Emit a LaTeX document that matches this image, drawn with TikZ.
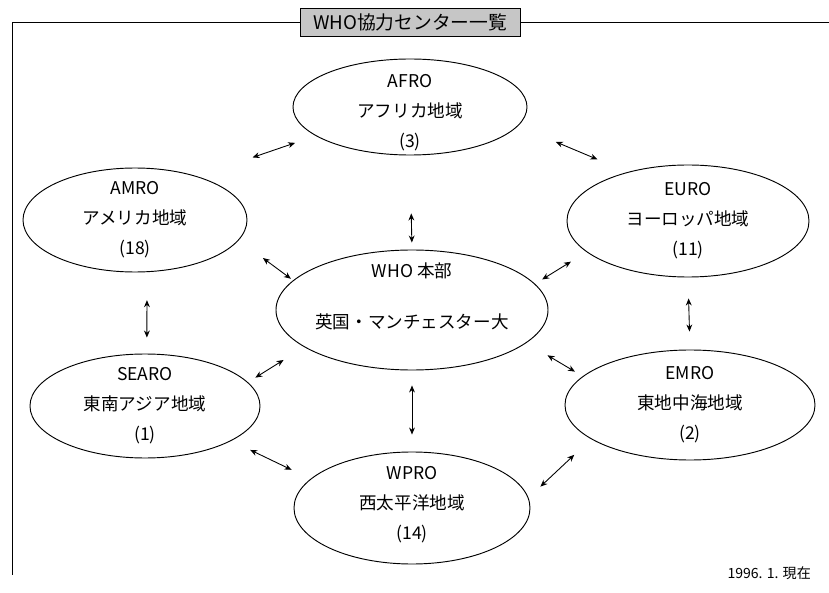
\documentclass[tikz,border=0pt]{standalone}
\usepackage{fontspec}
\setmainfont{Noto Sans CJK JP}
\usetikzlibrary{arrows.meta, shapes.geometric, calc}

\begin{document}
\begin{tikzpicture}[
    x=0.03cm, y=-0.03cm,
    region/.style={draw, line width=0.8pt, ellipse, inner sep=0pt},
    txt/.style={align=center, font=\fontsize{15pt}{25.5pt}\selectfont},
    link/.style={{Stealth[length=6pt,width=5pt]}-{Stealth[length=6pt,width=5pt]}, line width=0.75pt},
    titlebox/.style={draw, line width=0.8pt, fill=gray!45, minimum width=6.6cm, minimum height=0.84cm, font=\fontsize{16pt}{18pt}\selectfont},
    frame/.style={line width=0.8pt}
]
    \useasboundingbox (0,0) rectangle (829,593);

    % title and frame
    \node[titlebox] (title) at (410,22) {WHO協力センター一覧};
    \draw[frame] (title.west) -- (12,22) -- (12,575);
    \draw[frame] (title.east) -- (829,22);

    % regions
    \node[region, minimum width=7.02cm, minimum height=2.88cm,
        label={[txt, yshift=-0.18cm]center:{AFRO\\アフリカ地域\\(3)}}] (afro) at (410,107) {};
    \node[region, minimum width=6.72cm, minimum height=3.12cm,
        label={[txt]center:{AMRO\\アメリカ地域\\(18)}}] (amro) at (135,220) {};
    \node[region, minimum width=7.26cm, minimum height=3.36cm,
        label={[txt]center:{EURO\\ヨーロッパ地域\\(11)}}] (euro) at (688,221) {};
    \node[region, minimum width=8.16cm, minimum height=3.6cm,
        label={[txt, yshift=0.42cm]center:{WHO 本部\\[18pt]英国・マンチェスター大}}] (who) at (412,310) {};
    \node[region, minimum width=6.9cm, minimum height=3.12cm,
        label={[txt]center:{SEARO\\東南アジア地域\\(1)}}] (searo) at (145,406) {};
    \node[region, minimum width=7.5cm, minimum height=3.3cm,
        label={[txt]center:{EMRO\\東地中海地域\\(2)}}] (emro) at (690,405) {};
    \node[region, minimum width=7.08cm, minimum height=3.36cm,
        label={[txt, yshift=0.09cm]center:{WPRO\\西太平洋地域\\(14)}}] (wpro) at (412,508) {};

    % links
    \draw[link, shorten <=1.23cm, shorten >=0.98cm] (afro.-10) -- (euro.141);
    \draw[link, shorten <=1.75cm, shorten >=0.65cm] (amro.35) -- (afro.197);
    \draw[link, shorten <=1.74cm, shorten >=0.21cm] (afro.-90) -- (who.90);
    \draw[link, shorten <=0.9cm, shorten >=0.08cm] (amro.-11) -- (who.166);
    \draw[link, shorten <=0.55cm, shorten >=0.25cm] (euro.197) -- (who.12);
    \draw[link, shorten <=0.84cm, shorten >=0.48cm] (amro.-77) -- (searo.88);
    \draw[link, shorten <=0.63cm, shorten >=0.54cm] (euro.-90) -- (emro.90);
    \draw[link, shorten <=0.73cm, shorten >=0.26cm] (who.199) -- (searo.13);
    \draw[link, shorten <=0.73cm, shorten >=0.27cm] (who.-16) -- (emro.165);
    \draw[link, shorten <=0.45cm, shorten >=0.51cm] (who.-90) -- (wpro.90);
    \draw[link, shorten <=0.63cm, shorten >=0.63cm] (searo.-22) -- (wpro.164);
    \draw[link, shorten <=0.69cm, shorten >=0.49cm] (emro.199) -- (wpro.5);

    \node[anchor=east, font=\fontsize{12pt}{14pt}\selectfont] (date) at (815,573) {1996. 1. 現在};
\end{tikzpicture}
\end{document}
